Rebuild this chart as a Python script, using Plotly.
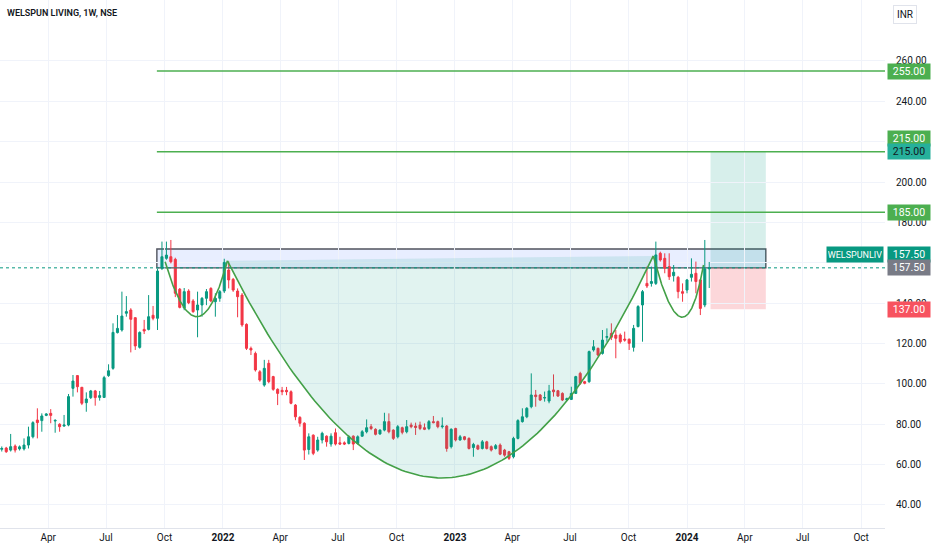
import numpy as np
import pandas as pd
import plotly.graph_objects as go

# ---------------- data ----------------
first_week = "2021-01-18"
opens = [67.6, 68.2, 67.2, 69.2, 67.8, 67.8, 69.7, 73.8, 82.1, 81.8, 84.4, 85.4, 81.6, 80.0, 79.1, 79.6,
         97.8, 104.1, 98.3, 90.7, 93.2, 96.5, 93.3, 93.3, 104.1, 107.7, 125.4, 126.7, 135.0, 136.6, 132.8,
         118.1, 127.0, 127.0, 134.0, 132.5,
         157.3, 162.2, 163.0, 161.7, 146.9, 137.6, 146.0, 141.1, 136.6, 139.1, 142.4, 147.3, 140.7, 142.4,
         146.0, 156.4, 151.8, 146.0, 144.0, 129.5, 117.6, 115.1, 106.0, 99.4, 110.2, 103.6, 97.3, 96.8,
         96.8, 96.1, 89.5, 83.4, 80.5, 67.5,
         74.6, 67.2, 72.2, 74.1, 70.2, 75.8, 70.8, 70.8, 70.5, 74.1, 70.5, 74.1, 76.3, 78.8, 77.5, 75.2,
         77.1, 81.3, 77.1, 73.8, 78.3, 76.3, 79.6, 79.1, 79.6, 78.3, 77.9, 81.3, 81.3, 78.8, 79.1, 68.9,
         77.9, 72.2, 73.8, 73.0, 68.5, 69.4, 68.0, 71.3, 68.9, 68.0, 69.7, 67.2, 66.4, 63.9, 73.0, 81.3,
         83.7,
         88.7, 94.5, 94.5, 93.0, 91.5, 97.0, 96.6, 95.3, 92.0, 92.3, 95.3, 105.2, 101.1, 101.1, 116.8,
         117.6, 115.1, 123.1, 125.0, 124.2, 124.2, 122.2, 122.1, 118.1, 128.4, 139.1, 149.8, 149.8, 149.8,
         164.7, 162.2, 158.1, 153.6, 152.8, 145.7, 146.5, 152.8, 154.8, 151.5, 139.1, 157.0]
highs = [69.0, 68.8, 75.2, 70.0, 69.5, 73.0, 78.8, 81.5, 87.9, 85.4, 85.5, 87.5, 82.5, 80.5, 84.6, 95.0,
         104.4, 104.4, 98.5, 95.8, 97.0, 97.0, 96.5, 104.0, 109.7, 130.0, 134.1, 145.7, 143.5, 137.5, 133.0,
         126.0, 131.7, 144.0, 138.6, 157.0,
         170.5, 170.5, 171.3, 162.5, 147.5, 147.5, 146.9, 142.0, 145.7, 143.0, 147.0, 147.9, 144.9, 146.5,
         162.0, 160.6, 152.5, 147.3, 145.0, 130.0, 118.5, 116.0, 106.8, 111.9, 111.9, 104.0, 97.8, 98.5,
         98.5, 96.8, 90.0, 84.0, 81.0, 75.5,
         75.0, 73.8, 76.3, 74.5, 75.5, 77.9, 73.8, 71.5, 74.5, 74.5, 74.5, 77.1, 82.4, 80.1, 78.0, 77.5,
         85.7, 85.4, 77.5, 79.6, 78.8, 82.1, 80.8, 80.8, 81.3, 80.4, 82.1, 84.1, 81.8, 83.4, 79.6, 78.0,
         78.3, 74.7, 74.2, 73.5, 70.8, 70.0, 72.2, 71.8, 69.5, 70.2, 70.5, 67.8, 66.8, 73.8, 82.5, 87.9,
         88.5,
         105.2, 97.0, 95.0, 96.2, 99.5, 104.7, 97.0, 95.8, 93.2, 98.6, 104.0, 106.0, 101.5, 116.5, 121.7,
         118.0, 126.7, 127.5, 130.0, 126.7, 125.0, 125.9, 122.5, 129.2, 139.0, 146.5, 158.1, 158.1, 170.5,
         165.5, 164.7, 164.7, 158.9, 153.5, 149.8, 152.0, 162.2, 160.6, 152.0, 171.3, 160.4]
lows = [66.5, 65.8, 66.5, 66.0, 67.0, 67.0, 68.0, 73.0, 73.0, 76.3, 84.0, 80.5, 75.8, 76.3, 78.8, 79.0,
        93.7, 95.8, 89.5, 86.2, 92.5, 89.2, 91.7, 93.0, 103.5, 107.0, 125.0, 125.9, 133.3, 115.6, 116.8,
        117.5, 124.7, 126.5, 131.5, 126.7,
        156.4, 161.5, 159.7, 143.0, 137.4, 136.5, 139.5, 135.2, 123.1, 133.3, 139.0, 140.5, 133.3, 140.7,
        145.0, 147.3, 145.6, 133.0, 128.3, 116.8, 114.3, 106.1, 101.1, 98.6, 100.3, 96.6, 89.5, 94.4,
        94.4, 89.9, 82.0, 78.8, 62.3, 65.0,
        64.7, 66.4, 70.5, 68.9, 68.9, 69.5, 69.7, 69.7, 70.0, 67.2, 70.0, 73.8, 75.5, 77.1, 74.5, 74.8,
        76.5, 75.5, 72.2, 73.0, 75.0, 75.5, 78.0, 74.7, 77.1, 77.1, 77.1, 80.5, 78.0, 77.9, 66.4, 68.0,
        71.5, 71.9, 72.0, 67.5, 63.9, 67.2, 67.5, 67.5, 66.5, 67.5, 64.7, 63.9, 62.3, 63.1, 72.5, 80.8,
        83.0,
        87.9, 88.7, 91.5, 91.2, 90.4, 93.7, 93.5, 91.5, 91.5, 92.0, 95.0, 99.5, 99.8, 100.5, 116.0,
        113.8, 114.5, 120.9, 121.7, 112.7, 120.0, 120.9, 116.8, 116.0, 128.0, 120.9, 147.5, 148.2, 149.0,
        160.6, 154.8, 151.5, 150.7, 142.4, 140.7, 144.9, 150.7, 144.9, 134.1, 138.0, 147.5]
closes = [68.0, 66.4, 68.9, 67.2, 68.8, 69.7, 73.8, 80.8, 80.8, 84.1, 85.1, 84.4, 81.9, 78.8, 79.6, 93.7,
          101.4, 98.6, 90.4, 92.5, 96.5, 93.2, 94.2, 103.1, 106.5, 125.5, 127.5, 133.6, 135.8, 132.0, 118.8,
          125.5, 126.2, 133.3, 132.5, 155.9,
          163.0, 163.8, 160.5, 144.9, 137.9, 145.7, 140.2, 135.8, 139.1, 142.4, 145.7, 141.1, 142.4, 145.7,
          160.2, 151.5, 146.5, 143.2, 129.2, 117.6, 116.8, 106.9, 101.9, 107.7, 101.1, 97.3, 95.3, 96.1,
          96.1, 90.4, 83.7, 80.5, 67.2, 73.8,
          65.6, 72.2, 75.5, 71.3, 74.1, 70.2, 70.2, 70.2, 73.8, 70.2, 73.8, 76.3, 78.3, 77.9, 75.0, 77.1,
          81.3, 76.3, 73.0, 78.8, 76.0, 78.8, 78.8, 78.4, 77.9, 77.5, 81.3, 80.8, 78.8, 79.1, 68.0, 77.5,
          72.2, 73.8, 72.5, 68.0, 70.0, 67.7, 71.3, 68.0, 67.2, 69.4, 65.2, 64.7, 63.1, 73.0, 81.8, 83.7,
          87.9,
          94.5, 93.7, 92.0, 93.2, 96.5, 96.1, 94.0, 92.0, 92.7, 95.3, 103.6, 100.3, 100.3, 116.0, 118.4,
          114.3, 121.7, 123.4, 123.1, 122.6, 120.9, 121.7, 120.1, 127.5, 138.3, 145.7, 148.5, 150.7, 163.9,
          161.4, 157.3, 153.1, 155.3, 145.7, 144.9, 151.5, 154.3, 150.7, 137.4, 157.0, 157.5]

# drawings
levels = [255.0, 215.0, 185.0]
levels_start = "2021-09-19"
zone_low, zone_high = 157.5, 166.8
zone_end = "2024-05-04"
entry_price, target_price, stop_price = 157.5, 215.0, 137.0
position_start, position_end = "2024-02-07", "2024-05-04"

cup_dates = ["2022-01-08", "2022-12-13", "2023-11-09"]
cup_prices = [161.0, 53.4, 163.4]
left_handle_dates = ["2021-10-02", "2021-11-21", "2022-01-08"]
left_handle_prices = [160.5, 133.3, 161.0]
right_handle_dates = ["2023-11-09", "2023-12-23", "2024-01-27"]
right_handle_prices = [163.4, 133.1, 158.9]

price_ticks = [40, 60, 80, 100, 120, 140, 160, 180, 200, 220, 240, 260]
hidden_price_ticks = [160, 220]  # covered by price labels in the original
month_ticks = ["2021-04-01", "2021-07-01", "2021-10-01", "2022-01-01", "2022-04-01", "2022-07-01",
               "2022-10-01", "2023-01-01", "2023-04-01", "2023-07-01", "2023-10-01", "2024-01-01",
               "2024-04-01", "2024-07-01", "2024-10-01"]
month_labels = ["Apr", "Jul", "Oct", "<b>2022</b>", "Apr", "Jul", "Oct", "<b>2023</b>", "Apr", "Jul",
                "Oct", "<b>2024</b>", "Apr", "Jul", "Oct"]

title_text = "WELSPUN LIVING, 1W, NSE"
symbol = "WELSPUNLIV"
currency = "INR"

x_range = ["2021-01-15 05:00", "2024-11-07 12:00"]
y_range = [28.6, 290.2]

# ---------------- styles ----------------
UP = "#089981"
DOWN = "#f23645"
LEVEL_GREEN = "#4caf50"
CURVE_GREEN = "#43a047"
TEXT = "#131722"
GRID = "#f0f3fa"
FONT = "Roboto"

dates = pd.date_range(first_week, periods=len(closes), freq="7D")


def bezier(dates3, prices3, n=120):
    """Quadratic Bezier through start, middle (t=0.5) and end points."""
    xs = np.array([pd.Timestamp(d).value for d in dates3], dtype=float)
    ys = np.array(prices3, dtype=float)
    cx = 2 * xs[1] - (xs[0] + xs[2]) / 2
    cy = 2 * ys[1] - (ys[0] + ys[2]) / 2
    t = np.linspace(0, 1, n)
    bx = (1 - t) ** 2 * xs[0] + 2 * t * (1 - t) * cx + t ** 2 * xs[2]
    by = (1 - t) ** 2 * ys[0] + 2 * t * (1 - t) * cy + t ** 2 * ys[2]
    return pd.to_datetime(bx.astype("int64")), by


fig = go.Figure()

# cup fill (under candles)
cx_, cy_ = bezier(cup_dates, cup_prices)
fig.add_trace(go.Scatter(x=list(cx_) + [cx_[0]], y=list(cy_) + [cy_[0]], mode="lines",
                         fill="toself", fillcolor="rgba(8,153,129,0.12)", line=dict(width=0),
                         hoverinfo="skip", showlegend=False))

fig.add_trace(go.Candlestick(
    x=dates, open=opens, high=highs, low=lows, close=closes,
    increasing=dict(line=dict(color=UP, width=1), fillcolor=UP),
    decreasing=dict(line=dict(color=DOWN, width=1), fillcolor=DOWN),
    whiskerwidth=0, showlegend=False, hoverinfo="skip"))

for dd, pp in [(cup_dates, cup_prices), (left_handle_dates, left_handle_prices),
               (right_handle_dates, right_handle_prices)]:
    bx, by = bezier(dd, pp)
    fig.add_trace(go.Scatter(x=bx, y=by, mode="lines", line=dict(color=CURVE_GREEN, width=1.6),
                             hoverinfo="skip", showlegend=False))

shapes = []
# zone box
shapes.append(dict(type="rect", xref="x", yref="y", x0=levels_start, x1=zone_end,
                   y0=zone_low, y1=zone_high, fillcolor="rgba(41,98,255,0.11)",
                   line=dict(color="#50535e", width=1.4), layer="below"))
# long position
shapes.append(dict(type="rect", xref="x", yref="y", x0=position_start, x1=position_end,
                   y0=entry_price, y1=target_price, fillcolor="rgba(8,153,129,0.16)",
                   line=dict(width=0), layer="below"))
shapes.append(dict(type="rect", xref="x", yref="y", x0=position_start, x1=position_end,
                   y0=stop_price, y1=entry_price, fillcolor="rgba(242,54,69,0.2)",
                   line=dict(width=0), layer="below"))
# horizontal levels
for lv in levels:
    shapes.append(dict(type="line", xref="x", yref="y", x0=levels_start, x1=x_range[1],
                       y0=lv, y1=lv, line=dict(color=LEVEL_GREEN, width=1.5)))
# last price line
shapes.append(dict(type="line", xref="paper", yref="y", x0=0, x1=1, y0=closes[-1], y1=closes[-1],
                   line=dict(color=UP, width=1, dash="dot")))

annotations = []


def axis_label(price, text, bg, fg, shift=0):
    annotations.append(dict(xref="paper", yref="y", x=1, y=price, xanchor="left", yanchor="middle",
                            xshift=2, yshift=shift, text=text, showarrow=False, bgcolor=bg,
                            font=dict(family=FONT, size=10.5, color=fg), width=40, height=13,
                            borderpad=1))


axis_label(levels[0], f"{levels[0]:.2f}", LEVEL_GREEN, "white")
axis_label(levels[1], f"{levels[1]:.2f}", LEVEL_GREEN, "white", 13)
axis_label(target_price, f"{target_price:.2f}", "#26b09b", TEXT)
axis_label(levels[2], f"{levels[2]:.2f}", LEVEL_GREEN, "white")
axis_label(closes[-1], f"{closes[-1]:.2f}", UP, "white", 13)
axis_label(entry_price, f"{entry_price:.2f}", "#787b86", "white")
axis_label(stop_price, f"{stop_price:.2f}", "#f7525f", "white")

annotations.append(dict(xref="paper", yref="y", x=1, y=closes[-1], xanchor="right", yanchor="middle",
                        xshift=-1, yshift=13, text=symbol, showarrow=False, bgcolor=UP,
                        font=dict(family=FONT, size=9, color="white"), width=54, height=13,
                        borderpad=1))
annotations.append(dict(xref="paper", yref="paper", x=0, y=1, xanchor="left", yanchor="top",
                        xshift=5, yshift=-6, text=title_text, showarrow=False,
                        font=dict(family=FONT, size=9, color=TEXT, weight=600)))
annotations.append(dict(xref="paper", yref="paper", x=1, y=1, xanchor="left", yanchor="top",
                        xshift=8, yshift=-5, text=currency, showarrow=False, bgcolor="white",
                        bordercolor="#e0e3eb", borderwidth=1, borderpad=3,
                        font=dict(family=FONT, size=10, color=TEXT)))

fig.update_layout(
    width=932, height=550, margin=dict(l=0, r=47, t=0, b=22),
    paper_bgcolor="white", plot_bgcolor="white",
    shapes=shapes, annotations=annotations, showlegend=False, boxgap=0.35,
    font=dict(family=FONT, size=10, color=TEXT),
    xaxis=dict(type="date", range=x_range, rangeslider=dict(visible=False),
               tickvals=month_ticks, ticktext=month_labels, tickfont=dict(size=10, color=TEXT),
               showgrid=True, gridcolor=GRID, zeroline=False, showline=True, linecolor="#e0e3eb",
               ticks="", fixedrange=True),
    yaxis=dict(side="right", range=y_range, tickvals=price_ticks,
               ticktext=["" if v in hidden_price_ticks else f"{v:.2f}" for v in price_ticks],
               tickfont=dict(size=10, color=TEXT),
               showgrid=True, gridcolor=GRID, zeroline=False, showline=False, ticks="",
               ticklabelstandoff=10),
)

fig.write_html("out.html", config={"displayModeBar": False},
               post_script="document.body.style.margin='0';")
